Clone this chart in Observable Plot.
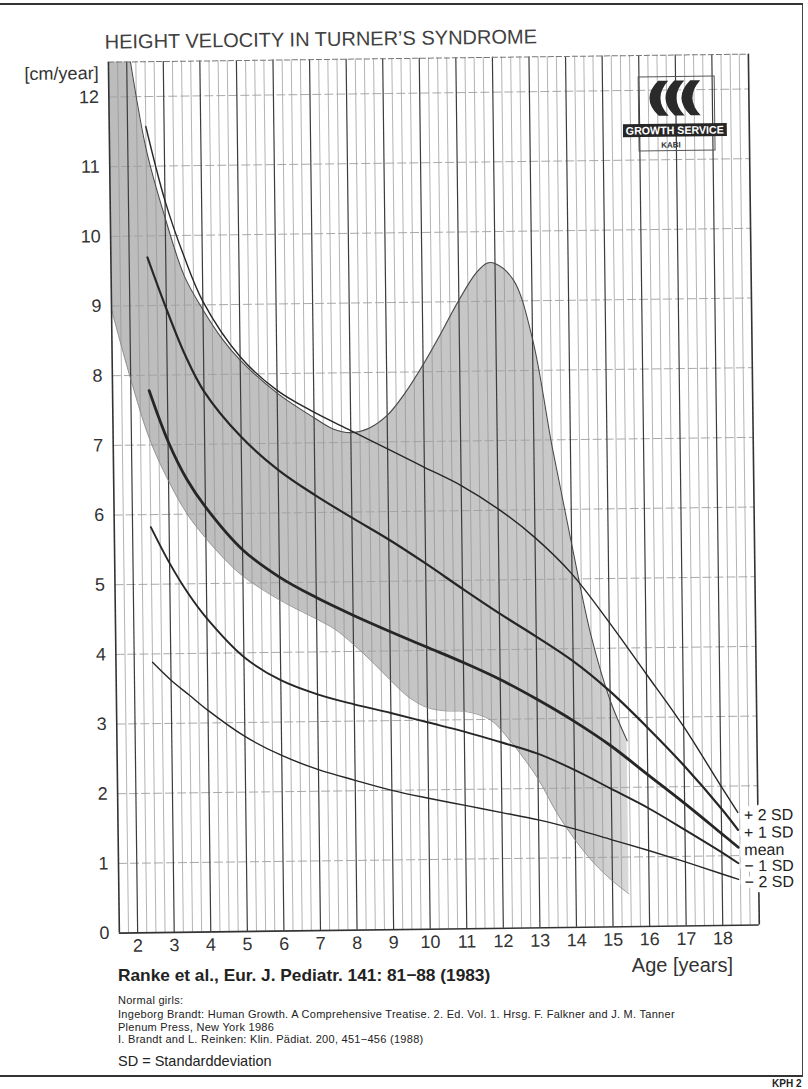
<!DOCTYPE html>
<html><head><meta charset="utf-8">
<script src="https://cdn.jsdelivr.net/npm/d3@7"></script>
<script src="https://cdn.jsdelivr.net/npm/@observablehq/plot@0.6"></script>
<style>
html,body{margin:0;padding:0;background:#fff;}
body{width:808px;height:1089px;overflow:hidden;position:relative;font-family:"Liberation Sans",Arial,Helvetica,sans-serif;color:#2b2b2b;}
#border{position:absolute;left:-4px;top:3px;width:807px;height:1074px;border-top:2px solid #333;border-right:1.5px solid #444;border-bottom:2px solid #333;box-sizing:border-box;}
#page{position:absolute;left:0;top:0;width:808px;height:1089px;transform:rotate(-0.72deg);transform-origin:404px 544px;}
#title{position:absolute;left:111px;top:26px;font-size:20px;line-height:24px;color:#404040;white-space:nowrap;}
#chart{position:absolute;left:0;top:50px;}
#xlabel{position:absolute;left:533px;width:200px;top:953px;text-align:right;font-size:20px;line-height:24px;color:#333;}
#cite{position:absolute;left:118px;top:964px;font-size:17.3px;line-height:22px;font-weight:bold;color:#222;white-space:nowrap;}
.small{position:absolute;left:118px;font-size:11px;line-height:12px;letter-spacing:0.28px;color:#222;white-space:nowrap;}
#sd{position:absolute;left:118px;top:1053px;font-size:14.5px;line-height:17px;color:#222;white-space:nowrap;}
#logo{position:absolute;left:628px;top:78px;}
#kph{position:absolute;left:772px;top:1078px;font-size:10px;font-weight:bold;color:#222;white-space:nowrap;}
</style>
</head>
<body>
<div id="border"></div>
<div id="page">
  <div id="title">HEIGHT VELOCITY IN TURNER’S SYNDROME</div>
  <div id="chart"></div>
  <svg id="logo" width="106" height="80" viewBox="0 0 106 80">
    <rect x="16" y="2" width="76" height="74" fill="none" stroke="#555" stroke-width="1"/>
    <path d="M36,6 Q18,23.5 36,41 L46,41 Q30,23.5 46,6 Z" fill="#2a2a2a"/>
    <path d="M52,6 Q34,23.5 52,41 L62,41 Q46,23.5 62,6 Z" fill="#2a2a2a"/>
    <path d="M68,6 Q50,23.5 68,41 L78,41 Q62,23.5 78,6 Z" fill="#2a2a2a"/>
    <rect x="0" y="49" width="104" height="13" fill="#262626"/>
    <text x="52" y="59.5" text-anchor="middle" fill="#fff" font-size="11" font-weight="bold" font-family="Liberation Sans, Arial, sans-serif" textLength="98" lengthAdjust="spacingAndGlyphs">GROWTH SERVICE</text>
    <text x="48" y="73" text-anchor="middle" fill="#333" font-size="8" font-weight="bold" font-family="Liberation Sans, Arial, sans-serif">KABI</text>
  </svg>
</div>
<div id="xlabel">Age [years]</div>
<div id="cite">Ranke et al., Eur. J. Pediatr. 141: 81−88 (1983)</div>
<div class="small" style="top:994px">Normal girls:</div>
<div class="small" style="top:1007.5px">Ingeborg Brandt: Human Growth. A Comprehensive Treatise. 2. Ed. Vol. 1. Hrsg. F. Falkner and J. M. Tanner</div>
<div class="small" style="top:1020.5px">Plenum Press, New York 1986</div>
<div class="small" style="top:1032.5px">I. Brandt and L. Reinken: Klin. Pädiat. 200, 451−456 (1988)</div>
<div id="sd">SD = Standarddeviation</div>
<div id="kph">KPH 2</div>
<script>
// ---- data ----
const ages = [2.5, 3, 3.5, 4, 5, 6, 7, 8, 9, 10, 11, 12, 13, 14, 15, 16, 17, 18, 18.45];
const plus2SD  = [11.57, 10.5, 9.7, 9.05, 8.25, 7.76, 7.44, 7.17, 6.9, 6.63, 6.36, 6.02, 5.6, 5.07, 4.37, 3.62, 2.86, 2.0, 1.62];
const plus1SD  = [9.69, 8.95, 8.28, 7.76, 7.1, 6.62, 6.25, 5.92, 5.6, 5.25, 4.88, 4.52, 4.18, 3.82, 3.38, 2.86, 2.3, 1.68, 1.37];
const meanSD   = [7.78, 7.05, 6.5, 6.1, 5.48, 5.08, 4.78, 4.52, 4.28, 4.05, 3.82, 3.57, 3.28, 2.96, 2.6, 2.18, 1.76, 1.32, 1.12];
const minus1SD = [5.82, 5.3, 4.86, 4.5, 3.94, 3.6, 3.39, 3.24, 3.11, 2.97, 2.83, 2.67, 2.5, 2.26, 1.98, 1.7, 1.38, 1.05, 0.89];
const minus2SD = [3.88, 3.62, 3.4, 3.18, 2.8, 2.52, 2.31, 2.15, 2.0, 1.88, 1.77, 1.66, 1.55, 1.41, 1.25, 1.09, 0.92, 0.74, 0.66];
const seriesNames = ["+ 2 SD", "+ 1 SD", "mean", "− 1 SD", "− 2 SD"];

// normal girls range (shaded band)
const bandAges  = [1.5, 2, 2.5, 3, 3.5, 4, 4.5, 5, 6, 7, 7.5, 8, 8.5, 9, 9.5, 10, 10.5, 11, 11.5, 11.8, 12, 12.5, 13, 13.5, 14, 14.5, 15, 15.45];
const bandUpper = [14.6, 12.85, 11.25, 10.25, 9.42, 8.93, 8.52, 8.2, 7.72, 7.36, 7.2, 7.14, 7.2, 7.38, 7.7, 8.1, 8.55, 9.02, 9.42, 9.55, 9.54, 9.3, 8.45, 6.9, 5.5, 4.18, 3.25, 2.67];
const bandLower = [8.95, 7.95, 7.08, 6.48, 6.0, 5.65, 5.35, 5.1, 4.75, 4.47, 4.32, 4.1, 3.85, 3.58, 3.33, 3.18, 3.13, 3.12, 3.05, 2.96, 2.85, 2.52, 2.14, 1.65, 1.25, 0.92, 0.66, 0.47];

const xTicks = [2, 3, 4, 5, 6, 7, 8, 9, 10, 11, 12, 13, 14, 15, 16, 17, 18];
const yTicks = [0, 1, 2, 3, 4, 5, 6, 7, 8, 9, 10, 11, 12];
const yUnit = "[cm/year]";

// ---- tables built from the arrays ----
const seriesValues = [plus2SD, plus1SD, meanSD, minus1SD, minus2SD];
const seriesWidths = [1.4, 2.2, 2.8, 1.9, 1.4];
const rows = seriesNames.map((name, i) => ages.map((a, j) => ({series: name, age: a, v: seriesValues[i][j]})));
const band = bandAges.map((a, i) => ({age: a, upper: bandUpper[i], lower: bandLower[i]}));
const ends = rows.map(r => r[r.length - 1]);
const minorTicks = d3.range(1.75, 19, 0.25).filter(d => Math.abs(d - Math.round(d)) > 1e-6);

const chart = Plot.plot({
  width: 808,
  height: 905,
  marginLeft: 114,
  marginRight: 54,
  marginTop: 8,
  marginBottom: 26,
  x: {domain: [1.5, 19]},
  y: {domain: [0, 12.5]},
  style: {fontFamily: "Liberation Sans, Arial, Helvetica, sans-serif", fontSize: "18px", color: "#333", background: "transparent", overflow: "visible"},
  marks: [
    Plot.areaY(band, {x: "age", y1: "lower", y2: "upper", curve: "catmull-rom", fill: "url(#bandfill)", clip: true}),
    Plot.ruleX(minorTicks, {stroke: "#939393", strokeWidth: 0.7}),
    Plot.ruleY(yTicks.filter(d => d > 0), {stroke: "#a0a0a0", strokeWidth: 0.9, strokeDasharray: "9,3"}),
    Plot.ruleX(xTicks, {stroke: "#3c3c3c", strokeWidth: 1.2}),
    Plot.line(band, {x: "age", y: "upper", curve: "catmull-rom", stroke: "#4a4a4a", strokeWidth: 1.1, clip: true}),
    Plot.line(band, {x: "age", y: "lower", curve: "catmull-rom", stroke: "#8a8a8a", strokeWidth: 0.8}),
    Plot.ruleY([12.5], {stroke: "#777", strokeWidth: 1, strokeDasharray: "6,2"}),
    Plot.ruleY([0], {stroke: "#333", strokeWidth: 1.6}),
    Plot.ruleX([1.5, 19], {stroke: "#333", strokeWidth: 1.6}),
    ...rows.map((r, i) => Plot.line(r, {x: "age", y: "v", curve: "catmull-rom", stroke: "#262626", strokeWidth: seriesWidths[i]})),
    Plot.text(ends, {x: "age", y: "v", text: "series", dx: 6, dy: 3, textAnchor: "start", fontSize: 16, fill: "#222", stroke: "white", strokeWidth: 10}),
    Plot.axisY(yTicks, {tickSize: 0, tickPadding: 10, fontSize: 18, label: null, tickFormat: d => String(d)}),
    Plot.axisX(xTicks, {tickSize: 0, tickPadding: 6, fontSize: 18, label: null, tickFormat: d => String(d)}),
    Plot.text([yUnit], {frameAnchor: "top-left", textAnchor: "end", lineAnchor: "middle", dx: -10, dy: 11, fontSize: 18, fill: "#333"})
  ]
});

// band fill, fading at its right end
const svg = d3.select(chart);
const defs = svg.insert("defs", ":first-child");
const grad = defs.append("linearGradient").attr("id", "bandfill").attr("gradientUnits", "userSpaceOnUse")
  .attr("x1", 114).attr("x2", 640).attr("y1", 0).attr("y2", 0);
grad.append("stop").attr("offset", "0").attr("stop-color", "#bcbcbc");
grad.append("stop").attr("offset", "0.9").attr("stop-color", "#cacaca");
grad.append("stop").attr("offset", "0.97").attr("stop-color", "#d9d9d9");
grad.append("stop").attr("offset", "1").attr("stop-color", "#efefef");

document.getElementById("chart").appendChild(chart);
</script>
</body></html>
